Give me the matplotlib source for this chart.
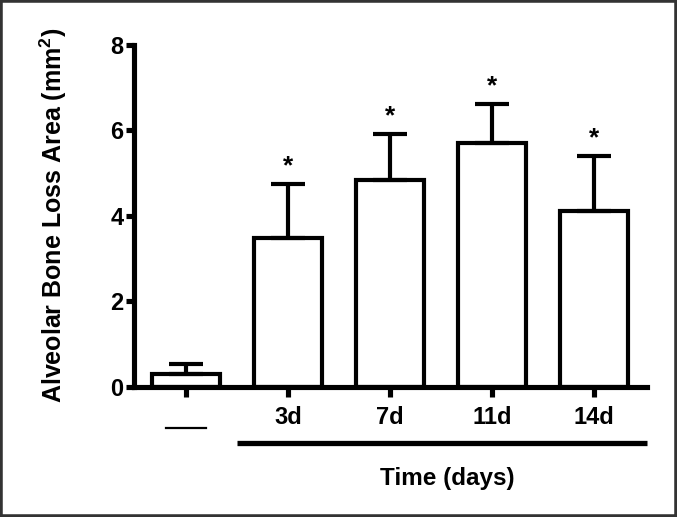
import matplotlib
matplotlib.use("Agg")
from matplotlib import pyplot as plt
from matplotlib.patches import Rectangle
import matplotlib.transforms as mtransforms

plt.rcParams['font.family'] = ['Liberation Sans', 'DejaVu Sans']
plt.rcParams['font.weight'] = 'bold'
plt.rcParams['mathtext.fontset'] = 'custom'
plt.rcParams['mathtext.rm'] = 'Liberation Sans:bold'
plt.rcParams['mathtext.bf'] = 'Liberation Sans:bold'

# valores
groups = ["", "3d", "7d", "11d", "14d"]
means = [0.30, 3.49, 4.83, 5.71, 4.12]
sem = [0.24, 1.26, 1.09, 0.91, 1.28]
signif = ["", "*", "*", "*", "*"]

x = list(range(len(groups)))

fig = plt.figure(figsize=(6.77, 5.17), dpi=100)
ax = fig.add_axes([0.198, 0.2515, 0.758, 0.6615])

ax.bar(x, means, width=0.66, color="white", edgecolor="black", linewidth=3,
       yerr=[[0] * len(sem), sem], capsize=12,
       error_kw=dict(elinewidth=3, capthick=3, ecolor="black"), zorder=2)

for xi, m, s, t in zip(x, means, sem, signif):
    if t:
        ax.annotate(t, (xi, m + s), xytext=(0, 13), textcoords="offset points",
                    ha="center", va="center", fontsize=19, fontweight="bold")

ax.set_xlim(-0.51, 4.52)
ax.set_ylim(0, 8)
ax.set_yticks([0, 2, 4, 6, 8])
ax.set_xticks(x)
ax.set_xticklabels(groups)

for side in ["top", "right"]:
    ax.spines[side].set_visible(False)
for side in ["left", "bottom"]:
    ax.spines[side].set_linewidth(3.7)
    ax.spines[side].set_capstyle("projecting")

ax.tick_params(axis="y", length=6, width=3.7, labelsize=17, pad=1.5)
ax.tick_params(axis="x", length=7.5, width=3.7, labelsize=17, pad=6)
for lab in ax.get_xticklabels() + ax.get_yticklabels():
    lab.set_fontweight("bold")

fig.text(53 / 677, 1 - 215 / 517, r"Alveolar Bone Loss Area (mm$^{\mathbf{2}}$)",
         rotation=90, ha="center", va="center", fontsize=18, fontweight="bold")

# linhas abaixo dos rótulos
trans = mtransforms.blended_transform_factory(ax.transData, fig.transFigure)
ax.plot([-0.2, 0.2], [1 - 428 / 517] * 2, color="black", lw=1.6,
        transform=trans, clip_on=False)
ax.plot([0.5, 4.52], [1 - 443 / 517] * 2, color="black", lw=3.8,
        transform=trans, clip_on=False, solid_capstyle="butt")
fig.text(447 / 677, 1 - 478 / 517, "Time (days)", ha="center", va="center",
         fontsize=17.5, fontweight="bold")

fig.patches.append(Rectangle((0, 0), 1, 1, transform=fig.transFigure, fill=False,
                             edgecolor="#333333", linewidth=4))

fig.savefig("out.png", dpi=100)
plt.close(fig)
